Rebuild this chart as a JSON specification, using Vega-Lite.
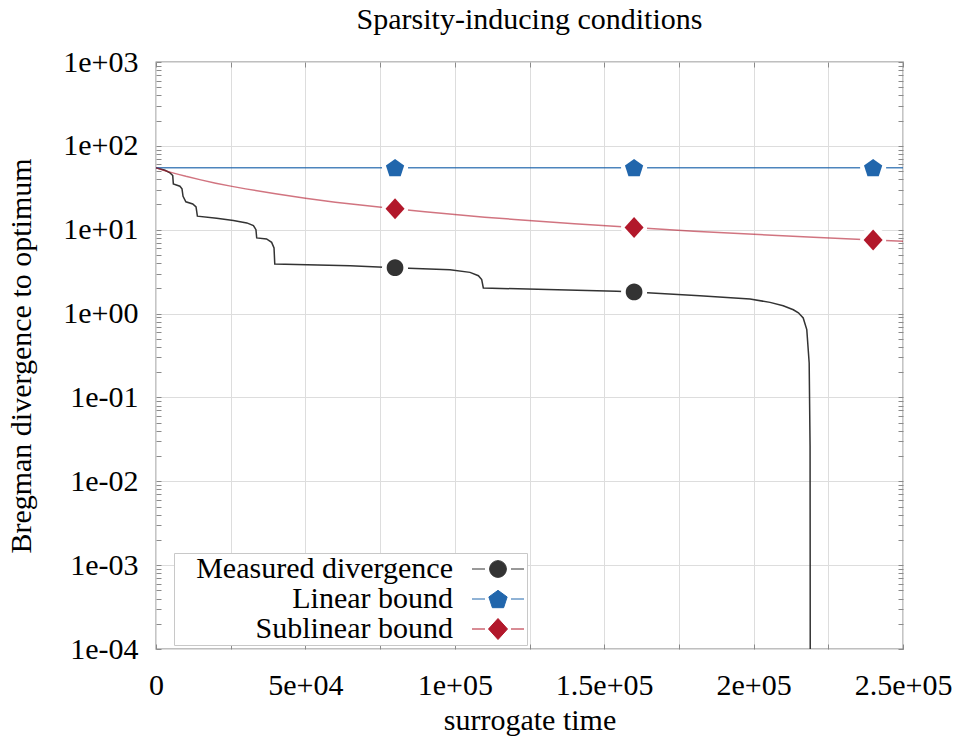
{
  "$schema": "https://vega.github.io/schema/vega-lite/v6.json",
  "autosize": {"type": "none"},
  "padding": {"left": 156, "top": 62, "right": 52, "bottom": 87},
  "width": 747,
  "height": 587,
  "title": {"text": "Sparsity-inducing conditions", "font": "Liberation Serif", "fontSize": 30, "fontWeight": "normal", "color": "#000000", "anchor": "middle", "offset": 12},
  "config": {
    "font": "Liberation Serif",
    "view": {"stroke": "#808080", "strokeWidth": 1.3},
    "axis": {
      "labelFont": "Liberation Serif", "labelFontSize": 30, "labelColor": "#000000",
      "titleFont": "Liberation Serif", "titleFontSize": 30, "titleFontWeight": "normal", "titleColor": "#000000",
      "domain": false, "tickColor": "#8a8a8a", "tickWidth": 1, "gridColor": "#dddddd", "gridWidth": 1,
      "labelOverlap": false, "labelFlush": false, "labelBound": false
    }
  },
  "datasets": {
    "lines": [
      {"series": "Measured divergence", "t": 0, "v": 55},
      {"series": "Measured divergence", "t": 3000, "v": 51.2},
      {"series": "Measured divergence", "t": 4700, "v": 47.6},
      {"series": "Measured divergence", "t": 5600, "v": 44.2},
      {"series": "Measured divergence", "t": 5800, "v": 35.2},
      {"series": "Measured divergence", "t": 8000, "v": 33.0},
      {"series": "Measured divergence", "t": 8700, "v": 30.7},
      {"series": "Measured divergence", "t": 9050, "v": 25.0},
      {"series": "Measured divergence", "t": 10000, "v": 21.5},
      {"series": "Measured divergence", "t": 12300, "v": 20.3},
      {"series": "Measured divergence", "t": 13400, "v": 18.7},
      {"series": "Measured divergence", "t": 13850, "v": 14.5},
      {"series": "Measured divergence", "t": 20300, "v": 13.7},
      {"series": "Measured divergence", "t": 25900, "v": 12.9},
      {"series": "Measured divergence", "t": 30400, "v": 12.05},
      {"series": "Measured divergence", "t": 32600, "v": 11.2},
      {"series": "Measured divergence", "t": 33450, "v": 10.0},
      {"series": "Measured divergence", "t": 33700, "v": 7.98},
      {"series": "Measured divergence", "t": 37000, "v": 7.77},
      {"series": "Measured divergence", "t": 38700, "v": 7.07},
      {"series": "Measured divergence", "t": 39500, "v": 6.07},
      {"series": "Measured divergence", "t": 39750, "v": 3.91},
      {"series": "Measured divergence", "t": 65000, "v": 3.73},
      {"series": "Measured divergence", "t": 80000, "v": 3.53},
      {"series": "Measured divergence", "t": 98400, "v": 3.34},
      {"series": "Measured divergence", "t": 105100, "v": 3.10},
      {"series": "Measured divergence", "t": 107900, "v": 2.83},
      {"series": "Measured divergence", "t": 109000, "v": 2.54},
      {"series": "Measured divergence", "t": 109550, "v": 2.02},
      {"series": "Measured divergence", "t": 154200, "v": 1.84},
      {"series": "Measured divergence", "t": 160000, "v": 1.81},
      {"series": "Measured divergence", "t": 182000, "v": 1.63},
      {"series": "Measured divergence", "t": 198800, "v": 1.49},
      {"series": "Measured divergence", "t": 205500, "v": 1.36},
      {"series": "Measured divergence", "t": 209900, "v": 1.24},
      {"series": "Measured divergence", "t": 213300, "v": 1.11},
      {"series": "Measured divergence", "t": 215000, "v": 1.02},
      {"series": "Measured divergence", "t": 216600, "v": 0.886},
      {"series": "Measured divergence", "t": 217800, "v": 0.643},
      {"series": "Measured divergence", "t": 218600, "v": 0.258},
      {"series": "Measured divergence", "t": 218900, "v": 0.026},
      {"series": "Measured divergence", "t": 219000, "v": 0.000001},
      {"series": "Linear bound", "t": 0, "v": 55},
      {"series": "Linear bound", "t": 250000, "v": 55},
      {"series": "Sublinear bound", "t": 0, "v": 55},
      {"series": "Sublinear bound", "t": 2500, "v": 51.3},
      {"series": "Sublinear bound", "t": 5000, "v": 48.3},
      {"series": "Sublinear bound", "t": 7500, "v": 45.7},
      {"series": "Sublinear bound", "t": 10000, "v": 43.3},
      {"series": "Sublinear bound", "t": 15000, "v": 39.3},
      {"series": "Sublinear bound", "t": 20000, "v": 35.9},
      {"series": "Sublinear bound", "t": 25000, "v": 33.1},
      {"series": "Sublinear bound", "t": 30000, "v": 30.7},
      {"series": "Sublinear bound", "t": 40000, "v": 26.8},
      {"series": "Sublinear bound", "t": 50000, "v": 23.7},
      {"series": "Sublinear bound", "t": 60000, "v": 21.3},
      {"series": "Sublinear bound", "t": 70000, "v": 19.4},
      {"series": "Sublinear bound", "t": 80000, "v": 17.8},
      {"series": "Sublinear bound", "t": 90000, "v": 16.4},
      {"series": "Sublinear bound", "t": 100000, "v": 15.2},
      {"series": "Sublinear bound", "t": 110000, "v": 14.1},
      {"series": "Sublinear bound", "t": 120000, "v": 13.25},
      {"series": "Sublinear bound", "t": 140000, "v": 11.8},
      {"series": "Sublinear bound", "t": 160000, "v": 10.6},
      {"series": "Sublinear bound", "t": 180000, "v": 9.6},
      {"series": "Sublinear bound", "t": 200000, "v": 8.8},
      {"series": "Sublinear bound", "t": 220000, "v": 8.15},
      {"series": "Sublinear bound", "t": 240000, "v": 7.55},
      {"series": "Sublinear bound", "t": 250000, "v": 7.3}
    ],
    "markers": [
      {"series": "Measured divergence", "t": 80000, "v": 3.53},
      {"series": "Measured divergence", "t": 160000, "v": 1.81},
      {"series": "Linear bound", "t": 80000, "v": 55},
      {"series": "Linear bound", "t": 160000, "v": 55},
      {"series": "Linear bound", "t": 240000, "v": 55},
      {"series": "Sublinear bound", "t": 80000, "v": 17.8},
      {"series": "Sublinear bound", "t": 160000, "v": 10.6},
      {"series": "Sublinear bound", "t": 240000, "v": 7.55}
    ]
  },
  "layer": [
    {
      "data": {"name": "lines"},
      "mark": {"type": "line", "clip": true, "strokeWidth": 1.5},
      "encoding": {
        "x": {"field": "t", "type": "quantitative",
          "scale": {"domain": [0, 250000], "nice": false, "zero": false},
          "axis": {"orient": "bottom", "title": "surrogate time", "grid": true, "tickSize": -5,
            "values": [0, 25000, 50000, 75000, 100000, 125000, 150000, 175000, 200000, 225000, 250000],
            "labelExpr": "datum.value == 0 ? '0' : datum.value == 50000 ? '5e+04' : datum.value == 100000 ? '1e+05' : datum.value == 150000 ? '1.5e+05' : datum.value == 200000 ? '2e+05' : datum.value == 250000 ? '2.5e+05' : ''",
            "labelPadding": 26, "titlePadding": 5}},
        "y": {"field": "v", "type": "quantitative",
          "scale": {"type": "log", "domain": [0.0001, 1000], "nice": false},
          "axis": {"orient": "left", "title": "Bregman divergence to optimum", "grid": true, "tickSize": -5,
            "values": [0.0001, 0.0002, 0.0003, 0.0004, 0.0005, 0.0006, 0.0007, 0.0008, 0.0009, 0.001, 0.002, 0.003, 0.004, 0.005, 0.006, 0.007, 0.008, 0.009, 0.01, 0.02, 0.03, 0.04, 0.05, 0.06, 0.07, 0.08, 0.09, 0.1, 0.2, 0.3, 0.4, 0.5, 0.6, 0.7, 0.8, 0.9, 1, 2, 3, 4, 5, 6, 7, 8, 9, 10, 20, 30, 40, 50, 60, 70, 80, 90, 100, 200, 300, 400, 500, 600, 700, 800, 900, 1000],
            "labelExpr": "datum.value == 0.0001 ? '1e-04' : datum.value == 0.001 ? '1e-03' : datum.value == 0.01 ? '1e-02' : datum.value == 0.1 ? '1e-01' : datum.value == 1 ? '1e+00' : datum.value == 10 ? '1e+01' : datum.value == 100 ? '1e+02' : datum.value == 1000 ? '1e+03' : ''",
            "gridOpacity": {"condition": {"test": "indexof([0.0001, 0.001, 0.01, 0.1, 1, 10, 100, 1000], datum.value) >= 0", "value": 1}, "value": 0},
            "labelPadding": 23, "titlePadding": 26}},
        "color": {"field": "series", "type": "nominal",
          "scale": {"domain": ["Measured divergence", "Linear bound", "Sublinear bound"], "range": ["#333333", "#2166ac", "#b2182b"]},
          "legend": {
            "orient": "none", "legendX": 18, "legendY": 491, "title": null,
            "labelFont": "Liberation Serif", "labelFontSize": 30, "labelColor": "#000000", "labelLimit": 0,
            "labelAlign": "right", "labelOffset": -60, "symbolOffset": 308, "symbolSize": 400, "symbolStrokeWidth": 1,
            "rowPadding": -1, "padding": 1, "fillColor": "#ffffff", "strokeColor": "#c8c8c8",
            "encode": {"symbols": {"update": {
              "shape": {"signal": "datum.value === 'Measured divergence' ? 'M-2.6,0L-1.3,0M1.3,0L2.6,0M-0.835,0A0.835,0.835,0,1,0,0.835,0A0.835,0.835,0,1,0,-0.835,0Z' : datum.value === 'Linear bound' ? 'M-2.6,0L-1.3,0M1.3,0L2.6,0M0,-0.868L0.913,-0.205L0.564,0.868L-0.564,0.868L-0.913,-0.205Z' : 'M-2.6,0L-1.3,0M1.3,0L2.6,0M0,-1.05L0.95,0L0,1.05L-0.95,0Z'"},
              "fill": {"signal": "scale('color', datum.value)"},
              "stroke": {"signal": "scale('color', datum.value)"},
              "strokeWidth": {"value": 1},
              "opacity": {"value": 1},
              "size": {"value": 400}
            }}}
          }},
        "strokeOpacity": {"field": "series", "type": "nominal",
          "scale": {"domain": ["Measured divergence", "Linear bound", "Sublinear bound"], "range": [1, 0.6, 1]},
          "legend": null}
      }
    },
    {
      "data": {"name": "markers"},
      "mark": {"type": "point", "shape": "circle", "filled": true, "color": "#ffffff", "opacity": 1, "size": 680},
      "encoding": {
        "x": {"field": "t", "type": "quantitative",
          "axis": {"orient": "top", "title": null, "labels": false, "grid": false, "tickSize": -5,
            "values": [0, 25000, 50000, 75000, 100000, 125000, 150000, 175000, 200000, 225000, 250000]}},
        "y": {"field": "v", "type": "quantitative",
          "axis": {"orient": "right", "title": null, "labels": false, "grid": false, "tickSize": -5,
            "values": [0.0001, 0.0002, 0.0003, 0.0004, 0.0005, 0.0006, 0.0007, 0.0008, 0.0009, 0.001, 0.002, 0.003, 0.004, 0.005, 0.006, 0.007, 0.008, 0.009, 0.01, 0.02, 0.03, 0.04, 0.05, 0.06, 0.07, 0.08, 0.09, 0.1, 0.2, 0.3, 0.4, 0.5, 0.6, 0.7, 0.8, 0.9, 1, 2, 3, 4, 5, 6, 7, 8, 9, 10, 20, 30, 40, 50, 60, 70, 80, 90, 100, 200, 300, 400, 500, 600, 700, 800, 900, 1000]}}
      }
    },
    {
      "data": {"name": "markers"},
      "transform": [{"filter": "datum.series === 'Measured divergence'"}],
      "mark": {"type": "point", "filled": true, "opacity": 1, "size": 400, "shape": "M-0.835,0A0.835,0.835,0,1,0,0.835,0A0.835,0.835,0,1,0,-0.835,0Z"},
      "encoding": {
        "x": {"field": "t", "type": "quantitative", "axis": null},
        "y": {"field": "v", "type": "quantitative", "axis": null},
        "color": {"field": "series", "type": "nominal"}
      }
    },
    {
      "data": {"name": "markers"},
      "transform": [{"filter": "datum.series === 'Linear bound'"}],
      "mark": {"type": "point", "filled": true, "opacity": 1, "size": 400, "shape": "M0,-0.868L0.913,-0.205L0.564,0.868L-0.564,0.868L-0.913,-0.205Z"},
      "encoding": {
        "x": {"field": "t", "type": "quantitative", "axis": null},
        "y": {"field": "v", "type": "quantitative", "axis": null},
        "color": {"field": "series", "type": "nominal"}
      }
    },
    {
      "data": {"name": "markers"},
      "transform": [{"filter": "datum.series === 'Sublinear bound'"}],
      "mark": {"type": "point", "filled": true, "opacity": 1, "size": 400, "shape": "M0,-1.05L0.95,0L0,1.05L-0.95,0Z"},
      "encoding": {
        "x": {"field": "t", "type": "quantitative", "axis": null},
        "y": {"field": "v", "type": "quantitative", "axis": null},
        "color": {"field": "series", "type": "nominal"}
      }
    }
  ]
}
